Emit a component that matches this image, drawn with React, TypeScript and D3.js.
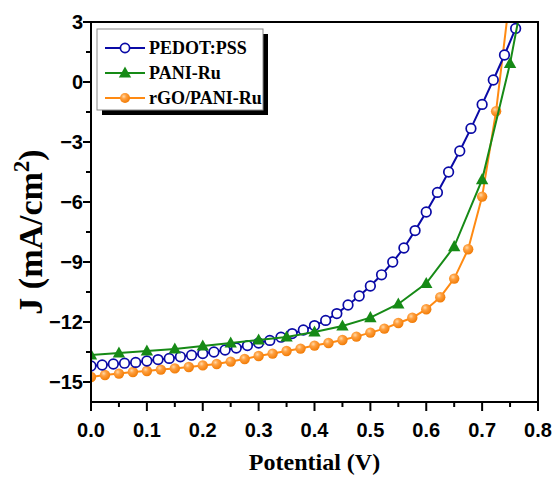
import React from 'react';
import * as d3 from 'd3';

const pedotV = [0, 0.02, 0.04, 0.06, 0.08, 0.1, 0.12, 0.14, 0.16, 0.18, 0.2, 0.22, 0.24, 0.26, 0.28, 0.3, 0.32, 0.34, 0.36, 0.38, 0.4, 0.42, 0.44, 0.46, 0.48, 0.5, 0.52, 0.54, 0.56, 0.58, 0.6, 0.62, 0.64, 0.66, 0.68, 0.7, 0.72, 0.74, 0.76];
const pedotJ = [-14.2, -14.15, -14.1, -14.06, -14.02, -13.95, -13.88, -13.82, -13.74, -13.66, -13.58, -13.5, -13.4, -13.3, -13.18, -13.05, -12.92, -12.76, -12.58, -12.4, -12.18, -11.92, -11.58, -11.15, -10.7, -10.2, -9.64, -9.0, -8.3, -7.43, -6.5, -5.52, -4.5, -3.45, -2.32, -1.12, 0.1, 1.35, 2.68];

const paniV = [0, 0.05, 0.1, 0.15, 0.2, 0.25, 0.3, 0.35, 0.4, 0.45, 0.5, 0.55, 0.6, 0.65, 0.7, 0.75, 0.8];
const paniJ = [-13.65, -13.55, -13.45, -13.35, -13.2, -13.05, -12.9, -12.75, -12.5, -12.2, -11.78, -11.1, -10.07, -8.23, -4.88, 0.93, 8.3];

const rgoV = [0, 0.025, 0.05, 0.075, 0.1, 0.125, 0.15, 0.175, 0.2, 0.225, 0.25, 0.275, 0.3, 0.325, 0.35, 0.375, 0.4, 0.425, 0.45, 0.475, 0.5, 0.525, 0.55, 0.575, 0.6, 0.625, 0.65, 0.675, 0.7, 0.725, 0.75];
const rgoJ = [-14.75, -14.65, -14.58, -14.5, -14.45, -14.38, -14.32, -14.25, -14.17, -14.1, -13.98, -13.85, -13.7, -13.58, -13.45, -13.33, -13.18, -13.05, -12.9, -12.73, -12.53, -12.33, -12.05, -11.79, -11.36, -10.76, -9.83, -8.36, -5.73, -1.46, 4.4];

const xTicks = [0, 0.1, 0.2, 0.3, 0.4, 0.5, 0.6, 0.7, 0.8];
const xMinor = [0.05, 0.15, 0.25, 0.35, 0.45, 0.55, 0.65, 0.75];
const yTicks = [-15, -12, -9, -6, -3, 0, 3];
const yMinor = [-13.5, -10.5, -7.5, -4.5, -1.5, 1.5];

const seriesNames = ['PEDOT:PSS', 'PANI-Ru', 'rGO/PANI-Ru'];

const BLUE = '#0a0aa6';
const GREEN = '#168a16';
const ORANGE = '#ff8a12';

const W = 554, H = 477;
const L = 91, R = 538, T = 22, B = 402;

export default function App() {
  const x = d3.scaleLinear().domain([0, 0.8]).range([L, R]);
  const y = d3.scaleLinear().domain([-16, 3]).range([B, T]);
  const line = d3.line<[number, number]>().x(d => x(d[0])).y(d => y(d[1]));

  const pedot: [number, number][] = pedotV.map((v, i) => [v, pedotJ[i]]);
  const pani: [number, number][] = paniV.map((v, i) => [v, paniJ[i]]);
  const rgo: [number, number][] = rgoV.map((v, i) => [v, rgoJ[i]]);
  const inside = (d: [number, number]) => d[0] <= 0.8 && d[1] <= 3;

  const tickFont = { fontFamily: '"Liberation Sans", Arial, sans-serif', fontWeight: 700, fontSize: 20 } as const;
  const serif = { fontFamily: '"Liberation Serif", "Times New Roman", serif', fontWeight: 700 } as const;

  const tri = (cx: number, cy: number, s = 6.5) =>
    `M${cx},${cy - s}L${cx + s * 0.95},${cy + s * 0.7}L${cx - s * 0.95},${cy + s * 0.7}Z`;

  const legendY = [48, 73, 98];

  return (
    <svg width={W} height={H} style={{ position: 'absolute', left: 0, top: 0, background: '#fff' }}>
      <defs>
        <clipPath id="plot">
          <rect x={L} y={T} width={R - L} height={B - T} />
        </clipPath>
        <radialGradient id="ball" cx="0.38" cy="0.35" r="0.7">
          <stop offset="0" stopColor="#ffd9a8" />
          <stop offset="0.35" stopColor="#ffa040" />
          <stop offset="1" stopColor="#f07800" />
        </radialGradient>
      </defs>

      {/* series */}
      <g clipPath="url(#plot)">
        <path d={line(rgo) || ''} fill="none" stroke={ORANGE} strokeWidth={2} />
        {rgo.filter(inside).map((d, i) => (
          <circle key={'o' + i} cx={x(d[0])} cy={y(d[1])} r={5.2} fill="url(#ball)" />
        ))}
        <path d={line(pedot) || ''} fill="none" stroke={BLUE} strokeWidth={2} />
        {pedot.filter(inside).map((d, i) => (
          <circle key={'b' + i} cx={x(d[0])} cy={y(d[1])} r={4.8} fill="#fff" stroke={BLUE} strokeWidth={1.7} />
        ))}
        <path d={line(pani) || ''} fill="none" stroke={GREEN} strokeWidth={2} />
        {pani.filter(inside).map((d, i) => (
          <path key={'g' + i} d={tri(x(d[0]), y(d[1]))} fill={GREEN} />
        ))}
      </g>

      {/* frame */}
      <rect x={L} y={T} width={R - L} height={B - T} fill="none" stroke="#000" strokeWidth={2} />

      {/* x axis */}
      {xTicks.map(t => (
        <g key={'xt' + t}>
          <line x1={x(t)} x2={x(t)} y1={B} y2={B + 9} stroke="#000" strokeWidth={2} />
          <text x={x(t)} y={437} textAnchor="middle" style={tickFont}>{t.toFixed(1)}</text>
        </g>
      ))}
      {xMinor.map(t => (
        <line key={'xm' + t} x1={x(t)} x2={x(t)} y1={B} y2={B + 5} stroke="#000" strokeWidth={2} />
      ))}

      {/* y axis */}
      {yTicks.map(t => (
        <g key={'yt' + t}>
          <line x1={L - 8} x2={L} y1={y(t)} y2={y(t)} stroke="#000" strokeWidth={2} />
          <text x={83} y={y(t) + 7} textAnchor="end" style={tickFont}>{t < 0 ? '\u2212' + Math.abs(t) : String(t)}</text>
        </g>
      ))}
      {yMinor.map(t => (
        <line key={'ym' + t} x1={L - 5} x2={L} y1={y(t)} y2={y(t)} stroke="#000" strokeWidth={2} />
      ))}

      {/* axis titles */}
      <text x={(L + R) / 2} y={470} textAnchor="middle" style={{ ...serif, fontSize: 24 }}>Potential (V)</text>
      <text transform={`translate(42, 232) rotate(-90)`} textAnchor="middle" style={{ ...serif, fontSize: 34 }}>
        J (mA/cm<tspan dy={-13} fontSize={23}>2</tspan><tspan dy={13}>)</tspan>
      </text>

      {/* legend */}
      <rect x={102} y={34} width={166} height={81} fill="#000" />
      <rect x={97} y={29} width={166} height={81} fill="#fff" stroke="#8a8a8a" strokeWidth={1} />
      {seriesNames.map((name, i) => {
        const ly = legendY[i];
        const color = [BLUE, GREEN, ORANGE][i];
        return (
          <g key={name}>
            <line x1={105} x2={145} y1={ly} y2={ly} stroke={color} strokeWidth={2} />
            {i === 0 && <circle cx={125} cy={ly} r={4.6} fill="#fff" stroke={BLUE} strokeWidth={1.7} />}
            {i === 1 && <path d={tri(125, ly)} fill={GREEN} />}
            {i === 2 && <circle cx={125} cy={ly} r={5} fill="url(#ball)" />}
            <text x={149} y={ly + 6} style={{ ...serif, fontSize: 18 }}>{name}</text>
          </g>
        );
      })}
    </svg>
  );
}
